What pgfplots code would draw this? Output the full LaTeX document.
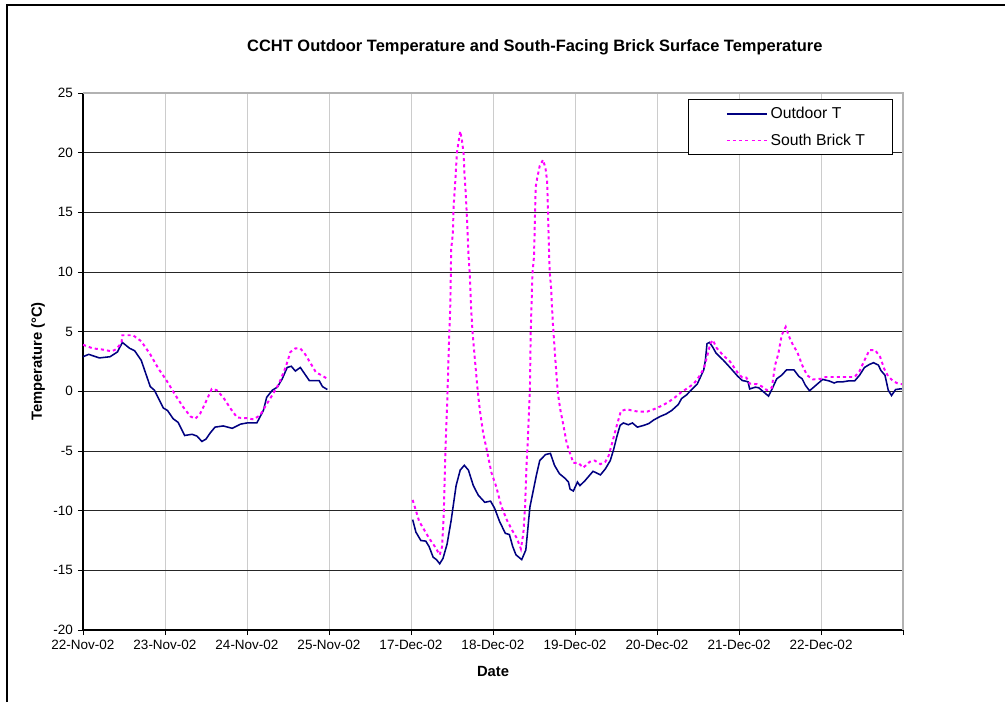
\documentclass[border=0pt]{standalone}
\usepackage{fontspec}
\setmainfont{Liberation Sans}
\usepackage{pgfplots}
\pgfplotsset{compat=1.18}
\definecolor{outdoor}{RGB}{0,0,128}
\definecolor{brick}{RGB}{255,0,255}

\begin{document}
\begin{tikzpicture}
\useasboundingbox (-2.075cm,-1.8cm) rectangle (23.05cm,15.75cm);
% frame of the chart area (cut off at right and bottom)
\draw[line width=1.4pt] (-1.9cm,-1.8cm) -- (-1.9cm,15.62cm) -- (23.05cm,15.62cm);
\begin{axis}[
    width=20.5cm, height=13.425cm, scale only axis,
    xmin=0, xmax=10, ymin=-20, ymax=25,
    xtick={0,...,10},
    xticklabels={22-Nov-02,23-Nov-02,24-Nov-02,25-Nov-02,17-Dec-02,18-Dec-02,
                 19-Dec-02,20-Dec-02,21-Dec-02,22-Dec-02,{}},
    ytick={-20,-15,...,25},
    axis lines=left, axis line style={-, black, line width=0.8pt},
    grid=major,
    x grid style={gray!40, line width=0.7pt},
    y grid style={black!85, line width=0.6pt},
    tick align=outside, major tick length=0.13cm,
    tick style={black, line width=0.7pt},
    tick label style={font=\fontsize{9.6}{11}\selectfont},
    /pgf/number format/assume math mode=true,
    unbounded coords=jump,
    title={CCHT Outdoor Temperature and South-Facing Brick Surface Temperature},
    title style={at={(0.551,1.069)}, anchor=center, font=\bfseries\fontsize{11.7}{13}\selectfont},
    xlabel={Date},
    xlabel style={at={(0.5,-0.078)}, anchor=center, font=\bfseries\fontsize{10.5}{12}\selectfont},
    ylabel={Temperature (°C)},
    ylabel style={at={(-0.0549,0.5)}, anchor=center, font=\bfseries\fontsize{10.5}{12}\selectfont},
    legend style={at={(0.988,0.989)}, anchor=north east, draw=black, line width=0.7pt,
                  fill=white, font=\fontsize{11.2}{12}\selectfont,
                  inner xsep=0.62cm, inner ysep=0.12cm, row sep=0.19cm},
    legend cell align=left,
    legend image code/.code={\path (0cm,0cm); \draw[#1] (0.3cm,0cm) -- (1.3cm,0cm);},
    after end axis/.code={
      \draw[gray!60, line width=1.2pt] (rel axis cs:0,1) -- (rel axis cs:1,1) -- (rel axis cs:1,0);
    },
]
\addplot[outdoor, line width=1.1pt] coordinates {
(0,2.9) (0.07,3.1) (0.2,2.8) (0.33,2.9) (0.42,3.3) (0.48,4.1) (0.57,3.6) (0.63,3.4)
(0.71,2.6) (0.82,0.4) (0.87,0.1) (0.98,-1.4) (1.03,-1.6) (1.10,-2.3) (1.16,-2.6)
(1.24,-3.7) (1.33,-3.6) (1.39,-3.75) (1.45,-4.2) (1.50,-4.0) (1.55,-3.5) (1.61,-3.0)
(1.71,-2.9) (1.82,-3.1) (1.92,-2.75) (2.0,-2.65) (2.12,-2.65) (2.20,-1.6) (2.24,-0.5)
(2.31,0.1) (2.37,0.35) (2.43,1.05) (2.49,2.0) (2.54,2.1) (2.59,1.7) (2.65,2.0)
(2.69,1.6) (2.76,0.9) (2.88,0.9) (2.92,0.4) (2.98,0.15)
(3.5,nan)
(4.02,-10.75) (4.06,-11.8) (4.12,-12.5) (4.18,-12.55) (4.22,-13.0) (4.27,-13.9)
(4.31,-14.1) (4.35,-14.45) (4.39,-14.0) (4.44,-12.8) (4.49,-10.8) (4.55,-7.9)
(4.60,-6.6) (4.65,-6.2) (4.70,-6.6) (4.76,-7.9) (4.82,-8.7) (4.90,-9.3) (4.97,-9.2)
(5.02,-9.8) (5.08,-10.9) (5.15,-11.9) (5.20,-12.0) (5.24,-13.0) (5.28,-13.7)
(5.35,-14.1) (5.40,-13.3) (5.45,-9.7) (5.53,-7.0) (5.57,-5.8) (5.64,-5.3) (5.70,-5.2)
(5.75,-6.2) (5.81,-6.9) (5.88,-7.3) (5.92,-7.6) (5.94,-8.2) (5.98,-8.35) (6.03,-7.6)
(6.06,-7.9) (6.12,-7.5) (6.22,-6.7) (6.31,-7.0) (6.37,-6.5) (6.43,-5.8) (6.47,-4.9)
(6.51,-3.8) (6.55,-2.85) (6.59,-2.65) (6.65,-2.8) (6.70,-2.65) (6.76,-3.0) (6.84,-2.85)
(6.90,-2.7) (6.96,-2.4) (7.04,-2.1) (7.11,-1.9) (7.18,-1.6) (7.26,-1.1) (7.30,-0.6)
(7.36,-0.3) (7.43,0.2) (7.49,0.6) (7.53,1.2) (7.57,1.8) (7.59,2.6) (7.61,4.0) (7.64,4.1)
(7.68,3.7) (7.72,3.2) (7.81,2.6) (7.89,2.0) (7.98,1.3) (8.04,0.9) (8.07,0.87) (8.11,0.8)
(8.13,0.2) (8.20,0.35) (8.24,0.3) (8.30,-0.05) (8.36,-0.4) (8.40,0.15) (8.46,1.05)
(8.52,1.35) (8.58,1.8) (8.67,1.8) (8.73,1.25) (8.77,1.05) (8.81,0.5) (8.86,0.05)
(8.92,0.4) (9.02,1.0) (9.10,0.87) (9.16,0.7) (9.20,0.8) (9.27,0.8) (9.33,0.87)
(9.41,0.87) (9.47,1.35) (9.53,2.0) (9.59,2.25) (9.64,2.4) (9.70,2.2) (9.73,1.75)
(9.78,1.35) (9.82,0.1) (9.86,-0.35) (9.91,0.15) (9.96,0.2) (10.0,0.2)
};
\addlegendentry{Outdoor T}
\addplot[brick, line width=1.4pt, dash pattern=on 2.2pt off 2.2pt] coordinates {
(0,3.9) (0.12,3.6) (0.24,3.5) (0.35,3.35) (0.41,3.55) (0.47,4.1) (0.48,4.7) (0.61,4.7)
(0.71,4.2) (0.82,3.1) (0.92,1.9) (1.02,0.9) (1.12,-0.25) (1.22,-1.3) (1.31,-2.1)
(1.37,-2.3) (1.43,-1.85) (1.49,-1.0) (1.57,0.2) (1.63,0.1) (1.71,-0.5) (1.80,-1.45)
(1.88,-2.2) (2.0,-2.25) (2.08,-2.35) (2.16,-2.0) (2.22,-1.3) (2.31,-0.3) (2.39,0.65)
(2.47,2.0) (2.53,3.3) (2.59,3.6) (2.65,3.6) (2.71,3.1) (2.78,2.3) (2.84,1.6) (2.92,1.3)
(2.98,1.05)
(3.5,nan)
(4.02,-9.1) (4.06,-10.0) (4.10,-10.9) (4.16,-11.6) (4.22,-12.3) (4.29,-13.0) (4.35,-13.7)
(4.38,-13.0) (4.40,-10.1) (4.42,-4.9) (4.44,-1.3) (4.46,3.4) (4.48,7.4) (4.49,11.9)
(4.51,13.2) (4.52,15.5) (4.54,17.6) (4.56,20.0) (4.58,20.9) (4.60,21.8) (4.62,21.1)
(4.64,20.0) (4.65,18.5) (4.67,16.3) (4.69,13.3) (4.70,11.6) (4.72,9.4) (4.73,7.3)
(4.75,5.0) (4.78,2.6) (4.81,0.3) (4.84,-1.6) (4.88,-3.5) (4.93,-5.1) (4.98,-6.8)
(5.04,-8.0) (5.10,-9.6) (5.17,-10.8) (5.23,-11.6) (5.29,-12.3) (5.34,-13.2) (5.37,-11.9)
(5.39,-9.8) (5.41,-6.1) (5.43,-3.3) (5.45,0.1) (5.46,5.1) (5.47,7.2) (5.48,9.8)
(5.50,11.3) (5.51,14.1) (5.52,17.1) (5.54,17.9) (5.57,18.9) (5.61,19.4) (5.64,18.7)
(5.66,17.6) (5.67,15.3) (5.68,12.5) (5.69,10.2) (5.71,8.5) (5.72,7.0) (5.73,5.7)
(5.76,2.7) (5.79,-0.1) (5.82,-1.5) (5.86,-2.9) (5.90,-4.4) (5.94,-5.2) (5.98,-6.0)
(6.04,-6.0) (6.10,-6.4) (6.18,-5.9) (6.24,-5.8) (6.31,-6.1) (6.37,-5.9) (6.41,-5.4)
(6.45,-4.4) (6.51,-2.85) (6.56,-1.65) (6.63,-1.5) (6.69,-1.6) (6.77,-1.7) (6.88,-1.7)
(6.98,-1.45) (7.06,-1.2) (7.14,-0.9) (7.22,-0.5) (7.30,-0.05) (7.38,0.3) (7.45,0.65)
(7.51,1.2) (7.57,1.9) (7.61,2.9) (7.65,4.0) (7.68,4.3) (7.73,3.6) (7.81,3.0) (7.89,2.5)
(7.98,1.6) (8.04,1.15) (8.09,1.15) (8.13,0.65) (8.22,0.6) (8.28,0.4) (8.34,0.1)
(8.40,0.3) (8.44,2.2) (8.48,3.15) (8.52,4.7) (8.57,5.4) (8.61,4.6) (8.66,3.85)
(8.71,3.3) (8.77,2.2) (8.83,1.35) (8.90,1.0) (9.00,1.05) (9.06,1.2) (9.16,1.2)
(9.29,1.2) (9.41,1.2) (9.47,1.7) (9.53,2.6) (9.59,3.45) (9.66,3.45) (9.72,2.9)
(9.77,1.9) (9.82,1.25) (9.88,0.85) (9.94,0.65) (9.99,0.6)
};
\addlegendentry{South Brick T}
\end{axis}
\end{tikzpicture}
\end{document}
